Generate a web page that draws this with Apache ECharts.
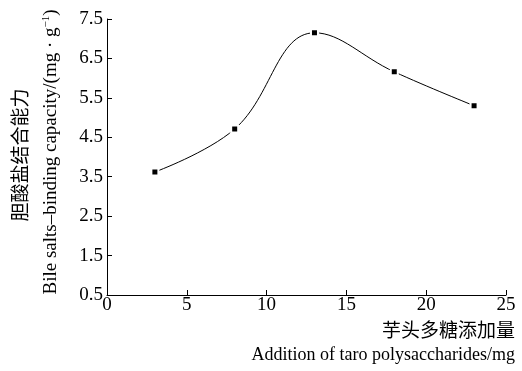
<!DOCTYPE html>
<html>
<head>
<meta charset="utf-8">
<script src="https://cdn.jsdelivr.net/npm/echarts@6/dist/echarts.min.js"></script>
<style>
  html, body { margin: 0; padding: 0; background: #fff; }
  #main { width: 522px; height: 371px; }
</style>
</head>
<body>
<div id="main"></div>
<script>
// 芋头多糖添加量 (mg) 与胆酸盐结合能力
var dosage = [3, 8, 13, 18, 23];
var capacity = [3.62, 4.71, 7.15, 6.16, 5.30];
var xTicks = [0, 5, 10, 15, 20, 25];
var yTicks = [0.5, 1.5, 2.5, 3.5, 4.5, 5.5, 6.5, 7.5];

var myChart = echarts.init(document.getElementById('main'));
var serif = '"Liberation Serif", "Times New Roman", serif';
var cjk = '"Noto Sans CJK SC", sans-serif';

var option = {
    backgroundColor: '#fff',
    animation: false,
    grid: {
        left: 107,
        right: 16,
        top: 19,
        bottom: 76
    },
    xAxis: {
        type: 'value',
        min: xTicks[0],
        max: xTicks[xTicks.length - 1],
        interval: 5,
        axisLine: { lineStyle: { color: '#000', width: 1 } },
        axisTick: { inside: true, length: 5, lineStyle: { color: '#000' } },
        axisLabel: { color: '#000', fontFamily: serif, fontSize: 19, margin: 1 },
        splitLine: { show: false }
    },
    yAxis: {
        type: 'value',
        min: yTicks[0],
        max: yTicks[yTicks.length - 1],
        interval: 1,
        axisLine: { show: true, lineStyle: { color: '#000', width: 1 } },
        axisTick: { show: true, inside: true, length: 5, lineStyle: { color: '#000' } },
        axisLabel: { color: '#000', fontFamily: serif, fontSize: 19, margin: 4,
            formatter: function (v) { return v.toFixed(1); } },
        splitLine: { show: false }
    },
    graphic: [
        {
            type: 'text', x: 20, y: 155, rotation: Math.PI / 2,
            style: { text: '胆酸盐结合能力', font: '19px ' + cjk, fill: '#000',
                align: 'center', verticalAlign: 'middle' }
        },
        {
            type: 'text', x: 51, y: 152, rotation: Math.PI / 2,
            style: {
                text: '{a|Bile salts\u2013binding capacity/(mg \u00b7 g}{s|\u22121}{a|)}',
                align: 'center', verticalAlign: 'middle', fill: '#000',
                rich: {
                    a: { fontFamily: serif, fontSize: 19, fill: '#000' },
                    s: { fontFamily: serif, fontSize: 11, fill: '#000', padding: [0, 0, 9, 0] }
                }
            }
        },
        {
            type: 'text', right: 7, top: 320,
            style: { text: '芋头多糖添加量', font: '19px ' + cjk, fill: '#000' }
        },
        {
            type: 'text', right: 7, top: 346,
            style: { text: 'Addition of taro polysaccharides/mg', font: '18px ' + serif, fill: '#000' }
        }
    ],
    series: [
        {
            type: 'line',
            data: dosage.map(function (d, i) { return [d, capacity[i]]; }),
            smooth: 0.4,
            symbol: 'rect',
            symbolSize: 7,
            lineStyle: { color: '#000', width: 1 },
            itemStyle: { color: '#000', borderColor: '#fff', borderWidth: 2 }
        }
    ]
};

myChart.setOption(option);
window.onresize = function () { myChart.resize(); };
</script>
</body>
</html>
